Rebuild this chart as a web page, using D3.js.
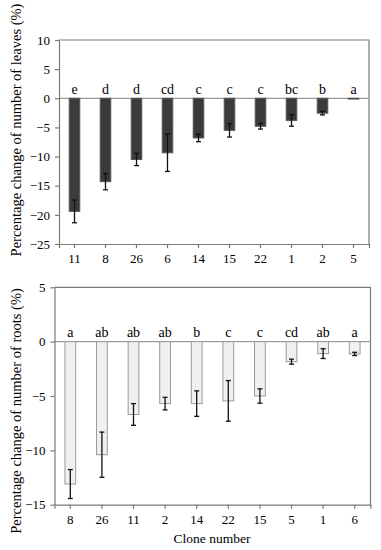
<!DOCTYPE html>
<html>
<head>
<meta charset="utf-8">
<script src="https://cdn.jsdelivr.net/npm/d3@7"></script>
<style>
  body { margin: 0; background: #fff; }
</style>
</head>
<body>
<svg id="chart" width="381" height="550"></svg>
<script>
var SERIF = "'Liberation Serif', 'Times New Roman', Times, 'DejaVu Serif', serif";

// leaves panel (top)
var leafClones  = ["11", "8", "26", "6", "14", "15", "22", "1", "2", "5"];
var leafMeans   = [-19.4, -14.3, -10.5, -9.35, -6.8, -5.5, -4.8, -3.8, -2.55, -0.05];
var leafErrs    = [1.95, 1.4, 1.05, 3.2, 0.65, 1.15, 0.48, 0.98, 0.3, 0];
var leafLetters = ["e", "d", "d", "cd", "c", "c", "c", "bc", "b", "a"];
var leafTicks   = [10, 5, 0, -5, -10, -15, -20, -25];

// roots panel (bottom)
var rootClones  = ["8", "26", "11", "2", "14", "22", "15", "5", "1", "6"];
var rootMeans   = [-13.1, -10.4, -6.7, -5.7, -5.7, -5.45, -5.0, -1.84, -1.1, -1.13];
var rootErrs    = [1.33, 2.08, 1.0, 0.58, 1.17, 1.87, 0.66, 0.23, 0.45, 0.15];
var rootLetters = ["a", "ab", "ab", "ab", "b", "c", "c", "cd", "ab", "a"];
var rootTicks   = [5, 0, -5, -10, -15];

var svg = d3.select("#chart");

function panel(opt) {
  var x = d3.scaleBand()
    .domain(opt.clones)
    .range([opt.left, opt.right])
    .paddingInner(0.66)
    .paddingOuter(0.33);

  var y = d3.scaleLinear()
    .domain(opt.domain)
    .range([opt.bottom, opt.top]);

  var g = svg.append("g");

  // frame (top + right)
  g.append("path")
    .attr("d", "M" + opt.left + "," + opt.top + "H" + opt.right + "V" + opt.bottom)
    .attr("fill", "none")
    .attr("stroke", "#7a7a7a")
    .attr("stroke-width", 1.2);

  // zero line
  g.append("line")
    .attr("x1", opt.left).attr("x2", opt.right)
    .attr("y1", y(0)).attr("y2", y(0))
    .attr("stroke", "#9a9a9a")
    .attr("stroke-width", 1.2);

  var rows = opt.clones.map(function(c, i) {
    return { clone: c, mean: opt.means[i], err: opt.errs[i], letter: opt.letters[i] };
  });

  // bars
  g.selectAll("rect.bar")
    .data(rows)
    .enter()
    .append("rect")
    .attr("class", "bar")
    .attr("x", function(d) { return x(d.clone); })
    .attr("width", x.bandwidth())
    .attr("y", y(0))
    .attr("height", function(d) { return Math.max(0.8, y(d.mean) - y(0)); })
    .attr("fill", opt.fill)
    .attr("stroke", opt.stroke)
    .attr("stroke-width", 1);

  // error bars
  var eb = g.selectAll("g.err")
    .data(rows.filter(function(d) { return d.err > 0; }))
    .enter()
    .append("g")
    .attr("class", "err")
    .attr("stroke", "#111")
    .attr("stroke-width", 1.3);

  eb.append("line")
    .attr("x1", function(d) { return x(d.clone) + x.bandwidth() / 2; })
    .attr("x2", function(d) { return x(d.clone) + x.bandwidth() / 2; })
    .attr("y1", function(d) { return y(d.mean + d.err); })
    .attr("y2", function(d) { return y(d.mean - d.err); });

  [1, -1].forEach(function(s) {
    eb.append("line")
      .attr("x1", function(d) { return x(d.clone) + x.bandwidth() / 2 - 2.5; })
      .attr("x2", function(d) { return x(d.clone) + x.bandwidth() / 2 + 2.5; })
      .attr("y1", function(d) { return y(d.mean + s * d.err); })
      .attr("y2", function(d) { return y(d.mean + s * d.err); });
  });

  // significance letters
  g.selectAll("text.letter")
    .data(rows)
    .enter()
    .append("text")
    .attr("class", "letter")
    .attr("x", function(d) { return x(d.clone) + x.bandwidth() / 2; })
    .attr("y", y(0) - 4.5)
    .attr("text-anchor", "middle")
    .attr("font-family", SERIF)
    .attr("font-size", 14)
    .attr("fill", "#000")
    .text(function(d) { return d.letter; });

  // axes
  var yAxis = g.append("g")
    .attr("transform", "translate(" + opt.left + ",0)")
    .call(d3.axisLeft(y).tickValues(opt.ticks).tickSize(4).tickSizeOuter(0).tickPadding(5));

  var xAxis = g.append("g")
    .attr("transform", "translate(0," + opt.bottom + ")")
    .call(d3.axisBottom(x).tickSize(4).tickSizeOuter(4).tickPadding(6));

  [yAxis, xAxis].forEach(function(a) {
    a.attr("font-family", SERIF).attr("font-size", 13);
    a.selectAll("path, line").attr("stroke", "#7a7a7a").attr("stroke-width", 1.2);
    a.selectAll("text").attr("fill", "#000");
  });

  // y title
  svg.append("text")
    .attr("transform", "translate(" + opt.titleX + "," + opt.titleY + ") rotate(-90)")
    .attr("text-anchor", "middle")
    .attr("font-family", SERIF)
    .attr("font-size", 14.5)
    .attr("fill", "#000")
    .text(opt.title);
}

panel({
  clones: leafClones, means: leafMeans, errs: leafErrs, letters: leafLetters,
  ticks: leafTicks, domain: [-25, 10],
  left: 59, right: 369, top: 40, bottom: 244,
  fill: "#3b3b3b", stroke: "#555",
  title: "Percentage change of number of leaves (%)", titleX: 21, titleY: 130
});

panel({
  clones: rootClones, means: rootMeans, errs: rootErrs, letters: rootLetters,
  ticks: rootTicks, domain: [-15, 5],
  left: 54.5, right: 370.5, top: 287.3, bottom: 504.7,
  fill: "#f0f0f0", stroke: "#9a9a9a",
  title: "Percentage change of number of roots (%)", titleX: 21, titleY: 411
});

svg.append("text")
  .attr("x", 212)
  .attr("y", 543)
  .attr("text-anchor", "middle")
  .attr("font-family", SERIF)
  .attr("font-size", 13.5)
  .attr("fill", "#000")
  .text("Clone number");
</script>
</body>
</html>
